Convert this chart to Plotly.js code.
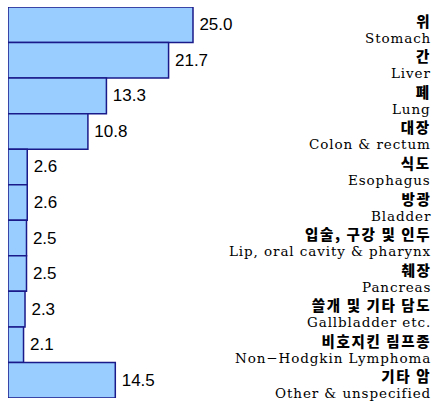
<!DOCTYPE html>
<html><head><meta charset="utf-8">
<script src="https://cdn.plot.ly/plotly-3.0.1.min.js"></script>
<style>html,body{margin:0;padding:0;background:#fff}</style>
</head><body>
<div id="chart" style="width:434px;height:403px"></div>
<script>
const categoriesKo = ["위","간","폐","대장","식도","방광","입술, 구강 및 인두","췌장","쓸개 및 기타 담도","비호지킨 림프종","기타 암"];
const categoriesEn = ["Stomach","Liver","Lung","Colon &amp; rectum","Esophagus","Bladder","Lip, oral cavity &amp; pharynx","Pancreas","Gallbladder etc.","Non\u2212Hodgkin Lymphoma","Other &amp; unspecified"];
const values = [25.0, 21.7, 13.3, 10.8, 2.6, 2.6, 2.5, 2.5, 2.3, 2.1, 14.5];

const ids = categoriesEn.map((_, i) => "c" + i);

const trace = {
  type: "bar",
  orientation: "h",
  x: values,
  y: ids,
  marker: {color: "#99ccff", line: {color: "#1a1a8a", width: 1.5}},
  text: values.map(v => "\u2009" + v.toFixed(1)),
  textposition: "outside",
  constraintext: "none",
  textfont: {family: "Liberation Sans, Arial, sans-serif", size: 17, color: "#000"},
  cliponaxis: false,
  hoverinfo: "none"
};

const annotations = ids.map((id, i) => ({
  xref: "paper", yref: "y", x: 1, y: id,
  xanchor: "right", yanchor: "middle", align: "right",
  yshift: -3, xshift: 1,
  showarrow: false,
  text: '<span style="font-family:Noto Sans CJK KR;font-weight:900;font-size:14.5px;letter-spacing:1.6px">' + categoriesKo[i] + '</span><br>' +
        '<span style="font-size:13.5px;letter-spacing:0.9px">' + categoriesEn[i] + '</span>',
  font: {family: "DejaVu Serif, serif", size: 12.5, color: "#000"}
}));

const layout = {
  width: 434, height: 403,
  margin: {l: 8, r: 2, t: 7, b: 5},
  paper_bgcolor: "#fff", plot_bgcolor: "#fff",
  bargap: 0,
  showlegend: false,
  xaxis: {range: [0, 424/7.4], visible: false, fixedrange: true},
  yaxis: {range: [10.5, -0.5], visible: false, type: "category", fixedrange: true},
  annotations: annotations
};

Plotly.newPlot("chart", [trace], layout, {staticPlot: true});
</script>
</body></html>
